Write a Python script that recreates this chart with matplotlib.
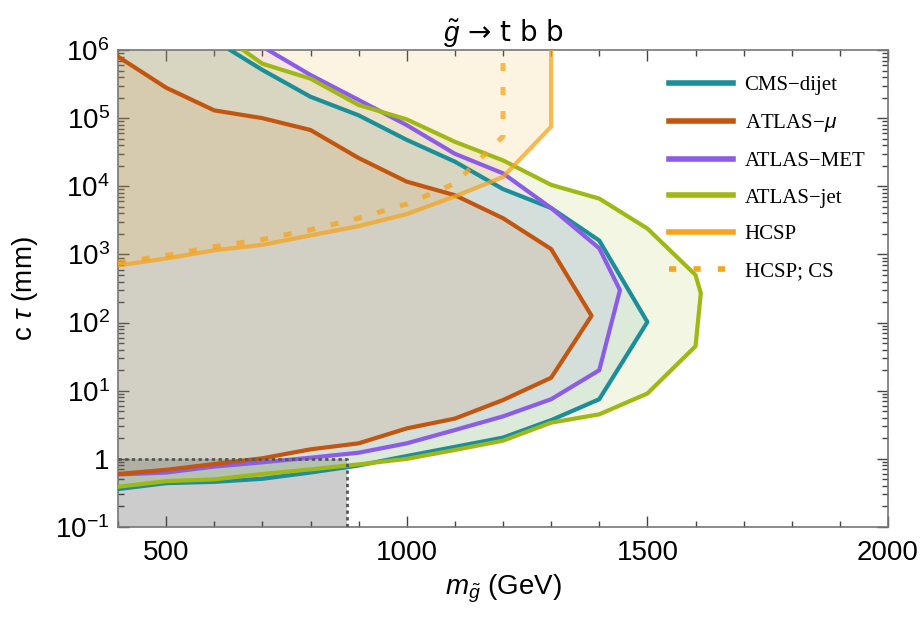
import matplotlib
matplotlib.use("Agg")
import matplotlib.pyplot as plt
import numpy as np
from matplotlib.lines import Line2D
from matplotlib.ticker import FixedLocator, LogLocator, NullFormatter, FixedFormatter, MultipleLocator

plt.rcParams['font.family'] = ['Liberation Sans', 'DejaVu Sans']
plt.rcParams['mathtext.fontset'] = 'custom'
plt.rcParams['mathtext.rm'] = 'Liberation Sans'
plt.rcParams['mathtext.it'] = 'Liberation Sans:italic'
plt.rcParams['mathtext.bf'] = 'Liberation Sans:bold'

# ---------------- data ----------------
cms_m = [400, 500, 600, 700, 800, 900, 1000, 1100, 1200, 1300, 1400, 1500,
         1400, 1300, 1200, 1100, 1000, 900, 800, 700, 633]
cms_ct = [0.36, 0.44, 0.46, 0.51, 0.63, 0.8, 1.1, 1.5, 2.05, 3.7, 7.5, 102,
          1600, 4800, 9100, 2.3e4, 4.8e4, 1.1e5, 2.06e5, 5.1e5, 1e6]

mu_m = [400, 500, 600, 700, 800, 900, 1000, 1100, 1200, 1300, 1384,
        1300, 1200, 1100, 1000, 900, 800, 700, 600, 500, 400]
mu_ct = [8e5, 2.8e5, 1.3e5, 1.0e5, 6.7e4, 2.6e4, 1.17e4, 7.4e3, 3.4e3, 1.2e3, 126,
         15.5, 7.3, 3.9, 2.8, 1.69, 1.38, 1.02, 0.84, 0.69, 0.6]

met_m = [400, 500, 600, 700, 800, 900, 1000, 1100, 1200, 1300, 1400, 1443,
         1400, 1300, 1200, 1100, 1000, 900, 800, 712]
met_ct = [0.59, 0.63, 0.77, 0.89, 1.04, 1.23, 1.69, 2.65, 4.2, 7.5, 20, 300,
          1230, 4800, 1.55e4, 3e4, 7.9e4, 1.85e5, 4.3e5, 1e6]

jet_m = [400, 500, 600, 700, 800, 900, 1000, 1100, 1200, 1300, 1400, 1500, 1600, 1611,
         1600, 1500, 1400, 1300, 1200, 1100, 1000, 900, 800, 700, 660]
jet_ct = [0.39, 0.47, 0.5, 0.6, 0.7, 0.83, 1.0, 1.35, 1.85, 3.4, 4.5, 9.1, 45, 270,
          500, 2400, 6600, 1.05e4, 2.4e4, 4.5e4, 9.6e4, 1.56e5, 3.8e5, 6.3e5, 1e6]

hcsp_m = [400, 500, 600, 700, 800, 900, 1000, 1100, 1200, 1300, 1300]
hcsp_ct = [690, 870, 1150, 1380, 1900, 2600, 3900, 7100, 1.37e4, 7.5e4, 1e6]

cs_m = [400, 500, 600, 700, 800, 900, 1000, 1100, 1200, 1200]
cs_ct = [760, 960, 1300, 1660, 2300, 3400, 5500, 1.1e4, 5.4e4, 1e6]

# prompt region box
box_m = 875
box_ct = 1.0

labels = ["CMS\u2212dijet", "ATLAS\u2212$\\mu$", "ATLAS\u2212MET", "ATLAS\u2212jet", "HCSP", "HCSP; CS"]
colors = ["#1a8e99", "#c2560f", "#8c5ce8", "#a0b814", "#f5a41c", "#f5a41c"]

XMIN, XMAX = 400, 2000
YMIN, YMAX = 0.1, 1e6

fig = plt.figure(figsize=(9.24, 6.2), dpi=100)
ax = fig.add_axes([118/924, 1-527/620, 770/924, 477/620])
ax.set_xlim(XMIN, XMAX)
ax.set_yscale('log')
ax.set_ylim(YMIN, YMAX)

# gray prompt box
ax.fill([XMIN, box_m, box_m, XMIN], [YMIN, YMIN, box_ct, box_ct], color='#cccccc', lw=0, zorder=1)
ax.plot([XMIN, box_m, box_m], [box_ct, box_ct, YMIN], color='#555555', lw=2, ls=(0, (1.2, 1.2)), zorder=6)

def close_left(m, c):
    mm = list(m); cc = list(c)
    if cc[-1] >= YMAX and mm[-1] > XMIN:
        mm.append(XMIN); cc.append(YMAX)
    return mm, cc

for (m, c), col, a in [((jet_m, jet_ct), colors[3], 0.12), ((cms_m, cms_ct), colors[0], 0.11),
                       ((met_m, met_ct), colors[2], 0.08), ((mu_m, mu_ct), colors[1], 0.10)]:
    mm, cc = close_left(m, c)
    ax.fill(mm, cc, color=col, alpha=a, lw=0, zorder=2)

# HCSP fill (above curve)
ax.fill(list(hcsp_m) + [XMIN], list(hcsp_ct) + [YMAX], color=colors[4], alpha=0.13, lw=0, zorder=2)

lw = 3.0
ax.plot(cms_m, cms_ct, color=colors[0], lw=lw, zorder=4.1)
ax.plot(met_m, met_ct, color=colors[2], lw=lw, zorder=4.2)
ax.plot(jet_m, jet_ct, color=colors[3], lw=lw, zorder=4.3)
ax.plot(mu_m, mu_ct, color=colors[1], lw=lw, zorder=4.4)
ax.plot(hcsp_m, hcsp_ct, color=colors[4], lw=lw, alpha=0.75, zorder=5)
ax.plot(cs_m, cs_ct, color=colors[4], lw=3.6, alpha=0.75, ls=(0, (1.6, 3.2)), zorder=5)

# ticks
ax.xaxis.set_major_locator(FixedLocator([500, 1000, 1500, 2000]))
ax.xaxis.set_minor_locator(MultipleLocator(100))
yt = [1e-1, 1, 1e1, 1e2, 1e3, 1e4, 1e5, 1e6]
ytl = ["$10^{-1}$", "1", "$10^{1}$", "$10^{2}$", "$10^{3}$", "$10^{4}$", "$10^{5}$", "$10^{6}$"]
ax.yaxis.set_major_locator(FixedLocator(yt))
ax.yaxis.set_major_formatter(FixedFormatter(ytl))
ax.yaxis.set_minor_locator(LogLocator(base=10, subs=np.arange(2, 10), numticks=20))
ax.yaxis.set_minor_formatter(NullFormatter())
ax.tick_params(which='both', direction='in', top=True, right=True, color='#444444', width=1)
ax.tick_params(which='major', length=8, labelsize=20)
ax.tick_params(axis='y', which='major', pad=6)
ax.tick_params(axis='x', which='major', pad=9)
ax.tick_params(which='minor', length=4)
for s in ax.spines.values():
    s.set_color('#777777'); s.set_linewidth(1.2)

ax.set_xlabel("$m_{\\tilde{g}}$ (GeV)", fontsize=20, labelpad=5)
ax.set_ylabel("c $\\tau$ (mm)", fontsize=20)
ax.yaxis.set_label_coords(-0.101, 0.5)
ax.set_title("$\\tilde{g}$ \u2192 t b b", fontsize=20, pad=6, fontfamily=['DejaVu Sans'])

handles = [Line2D([], [], color=colors[i], lw=4) for i in range(5)]
handles.append(Line2D([], [], color=colors[5], lw=4, ls=(0, (1.3, 3.1))))
leg = ax.legend(handles, labels, loc='upper left', bbox_to_anchor=(0.715, 0.946),
                frameon=False, prop={'family': ['Liberation Serif', 'DejaVu Serif'], 'size': 15},
                handlelength=3.1, handletextpad=0.55, labelspacing=0.82, borderpad=0, borderaxespad=0)

fig.savefig("out.png", dpi=100)
